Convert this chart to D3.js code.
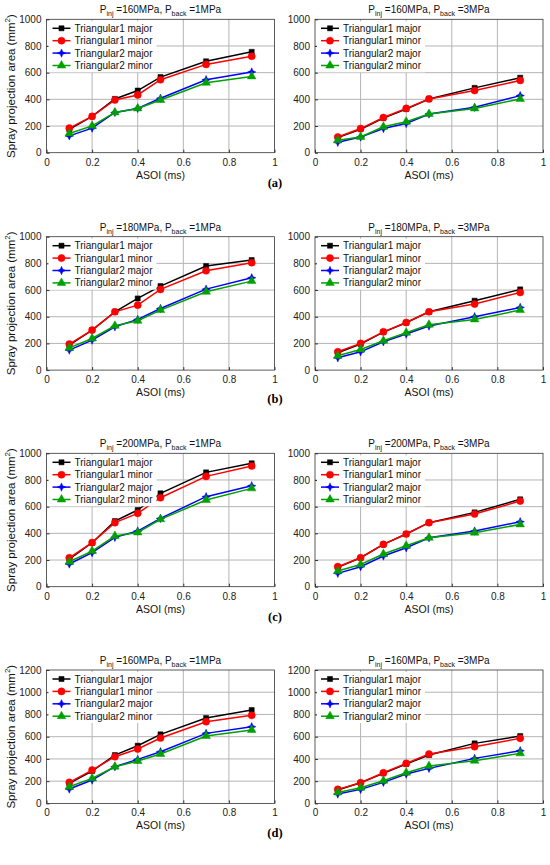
<!DOCTYPE html>
<html>
<head>
<meta charset="utf-8">
<script src="https://cdn.jsdelivr.net/npm/d3@7"></script>
<style>
  body { margin: 0; background: #fff; }
  svg { display: block; font-family: "Liberation Sans", Arial, sans-serif; }
</style>
</head>
<body>
<div id="chart"></div>
<script>
// data (spray projection area, mm^2)
var asoi = [0.1, 0.2, 0.3, 0.4, 0.5, 0.7, 0.9];
var seriesNames = ["Triangular1 major", "Triangular1 minor", "Triangular2 major", "Triangular2 minor"];
var xTicks = [0, 0.2, 0.4, 0.6, 0.8, 1];
var yTicks1000 = [0, 200, 400, 600, 800, 1000];
var yTicks1200 = [0, 200, 400, 600, 800, 1000, 1200];
var subLabels = ["(a)", "(b)", "(c)", "(d)"];

// [Triangular1 major, Triangular1 minor, Triangular2 major, Triangular2 minor]
var a160_1 = [[176, 272, 403, 466, 567, 685, 756], [184, 272, 395, 433, 547, 662, 723], [126, 184, 302, 332, 408, 547, 605], [144, 201, 302, 332, 395, 524, 572]];
var a160_3 = [[113, 176, 259, 327, 403, 486, 562], [118, 181, 264, 332, 403, 466, 542], [78, 118, 181, 219, 290, 340, 428], [93, 118, 194, 232, 290, 332, 403]];
var b180_1 = [[187, 300, 437, 537, 630, 780, 825], [195, 300, 437, 487, 605, 745, 805], [150, 225, 325, 380, 462, 607, 692], [167, 237, 332, 370, 450, 587, 667]];
var b180_3 = [[130, 195, 285, 355, 437, 520, 605], [137, 200, 287, 357, 437, 495, 582], [92, 137, 212, 270, 330, 400, 470], [107, 155, 220, 280, 340, 380, 450]];
var c200_1 = [[207, 330, 492, 575, 700, 857, 925], [217, 330, 480, 550, 667, 827, 905], [170, 255, 370, 417, 512, 675, 757], [187, 267, 380, 407, 505, 650, 737]];
var c200_3 = [[145, 217, 317, 395, 480, 557, 655], [150, 217, 317, 395, 480, 545, 642], [100, 150, 230, 292, 367, 417, 487], [117, 167, 245, 307, 367, 405, 467]];
var d160_1 = [[180, 291, 435, 519, 621, 768, 840], [189, 300, 420, 489, 588, 735, 792], [129, 210, 330, 396, 465, 630, 690], [150, 225, 330, 381, 444, 606, 660]];
var d160_3 = [[120, 186, 270, 354, 435, 540, 606], [126, 186, 276, 360, 444, 510, 585], [84, 126, 189, 264, 315, 405, 474], [99, 141, 204, 276, 336, 384, 450]];

var colors = ["#000000", "#ff0000", "#0000ff", "#00a000"];

var panels = [
  {row: 0, col: 0, pinj: "160", pback: "1", data: a160_1, ymax: 1000, yt: yTicks1000},
  {row: 0, col: 1, pinj: "160", pback: "3", data: a160_3, ymax: 1000, yt: yTicks1000},
  {row: 1, col: 0, pinj: "180", pback: "1", data: b180_1, ymax: 1000, yt: yTicks1000},
  {row: 1, col: 1, pinj: "180", pback: "3", data: b180_3, ymax: 1000, yt: yTicks1000},
  {row: 2, col: 0, pinj: "200", pback: "1", data: c200_1, ymax: 1000, yt: yTicks1000},
  {row: 2, col: 1, pinj: "200", pback: "3", data: c200_3, ymax: 1000, yt: yTicks1000},
  {row: 3, col: 0, pinj: "160", pback: "1", data: d160_1, ymax: 1200, yt: yTicks1200},
  {row: 3, col: 1, pinj: "160", pback: "3", data: d160_3, ymax: 1200, yt: yTicks1200}
];

var svg = d3.select("#chart").append("svg").attr("width", 550).attr("height", 865);

var colLeft = [46.5, 315], plotW = 228,
    rowTop = [19.3, 236.7, 453.3, 670], plotH = 133.4,
    subLabelY = [187, 403, 621, 837];

// 4 point star used for the blue series
function star4(r) {
  var w = r * 0.3;
  return "M0," + (-r) + "L" + w + "," + (-w) + "L" + r + ",0L" + w + "," + w +
         "L0," + r + "L" + (-w) + "," + w + "L" + (-r) + ",0L" + (-w) + "," + (-w) + "Z";
}
var markers = [
  d3.symbol().type(d3.symbolSquare).size(26)(),
  d3.symbol().type(d3.symbolCircle).size(40)(),
  star4(4.2),
  d3.symbol().type(d3.symbolTriangle).size(32)()
];

panels.forEach(function(p) {
  var left = colLeft[p.col], top = rowTop[p.row];
  var x = d3.scaleLinear().domain([0, 1]).range([0, plotW]);
  var y = d3.scaleLinear().domain([0, p.ymax]).range([plotH, 0]);
  var g = svg.append("g").attr("transform", `translate(${left},${top})`);

  // grid
  g.append("g").selectAll("line").data(xTicks.slice(1, -1)).enter().append("line")
    .attr("x1", d => x(d)).attr("x2", d => x(d)).attr("y1", 0).attr("y2", plotH)
    .attr("stroke", "#b4b4b4").attr("stroke-width", 1);
  g.append("g").selectAll("line").data(p.yt.slice(1, -1)).enter().append("line")
    .attr("y1", d => y(d)).attr("y2", d => y(d)).attr("x1", 0).attr("x2", plotW)
    .attr("stroke", "#b4b4b4").attr("stroke-width", 1);

  // axes
  var xa = g.append("g").attr("transform", `translate(0,${plotH})`)
    .call(d3.axisBottom(x).tickValues(xTicks).tickSize(-3).tickPadding(6).tickFormat(d3.format("~g")));
  var ya = g.append("g")
    .call(d3.axisLeft(y).tickValues(p.yt).tickSize(-3).tickPadding(5).tickFormat(d3.format("d")));
  [xa, ya].forEach(function(a) {
    a.select(".domain").remove();
    a.selectAll("text").attr("font-size", 10).attr("fill", "#222").attr("font-family", "Liberation Sans, Arial, sans-serif");
    a.selectAll("line").attr("stroke", "#333");
  });
  g.append("rect").attr("width", plotW).attr("height", plotH)
    .attr("fill", "none").attr("stroke", "#333").attr("stroke-width", 0.8);

  // series
  var line = d3.line().x((d, i) => x(asoi[i])).y(d => y(d));
  p.data.forEach(function(vals, s) {
    g.append("path").datum(vals).attr("d", line)
      .attr("fill", "none").attr("stroke", colors[s]).attr("stroke-width", 1.5);
    g.append("g").selectAll("path").data(vals).enter().append("path")
      .attr("d", markers[s])
      .attr("transform", (d, i) => `translate(${x(asoi[i])},${y(d)})`)
      .attr("fill", colors[s]).attr("stroke", colors[s]).attr("stroke-width", 0.5);
  });

  // legend
  var lg = g.append("g").attr("transform", "translate(6,9)");
  lg.append("rect").attr("x", -4).attr("y", -7).attr("width", 108).attr("height", 51).attr("fill", "#fff");
  seriesNames.forEach(function(name, s) {
    var ly = s * 12.4;
    lg.append("line").attr("x1", 0).attr("x2", 18).attr("y1", ly).attr("y2", ly)
      .attr("stroke", colors[s]).attr("stroke-width", 1.5);
    lg.append("path").attr("d", markers[s]).attr("transform", `translate(9,${ly})`)
      .attr("fill", colors[s]).attr("stroke", colors[s]).attr("stroke-width", 0.5);
    lg.append("text").attr("x", 22).attr("y", ly + 3.5).attr("font-size", 10).attr("fill", "#111").text(name);
  });

  // title
  var t = g.append("text").attr("x", plotW / 2).attr("y", -6).attr("text-anchor", "middle")
    .attr("font-size", 10).attr("fill", "#111");
  t.append("tspan").text("P");
  t.append("tspan").attr("font-size", 7).attr("dy", 3).text("inj");
  t.append("tspan").attr("dy", -3).text(" =" + p.pinj + "MPa, P");
  t.append("tspan").attr("font-size", 7).attr("dy", 3).text("back");
  t.append("tspan").attr("dy", -3).text(" =" + p.pback + "MPa");

  // x label
  g.append("text").attr("x", plotW / 2).attr("y", plotH + 26).attr("text-anchor", "middle")
    .attr("font-size", 10.5).attr("fill", "#111").text("ASOI (ms)");

  // y label on left column only
  if (p.col === 0) {
    var yl = g.append("text").attr("transform", `translate(${-32},${plotH / 2}) rotate(-90)`)
      .attr("text-anchor", "middle").attr("font-size", 11.5).attr("fill", "#111");
    yl.append("tspan").text("Spray projection area (mm");
    yl.append("tspan").attr("font-size", 8).attr("dy", -5).text("2");
    yl.append("tspan").attr("dy", 5).text(")");
  }
});

subLabels.forEach(function(s, i) {
  svg.append("text").attr("x", 275).attr("y", subLabelY[i]).attr("text-anchor", "middle")
    .attr("font-family", "Liberation Serif, Times New Roman, serif").attr("font-size", 12.5)
    .attr("font-weight", "bold").attr("fill", "#000").text(s);
});
</script>
</body>
</html>
